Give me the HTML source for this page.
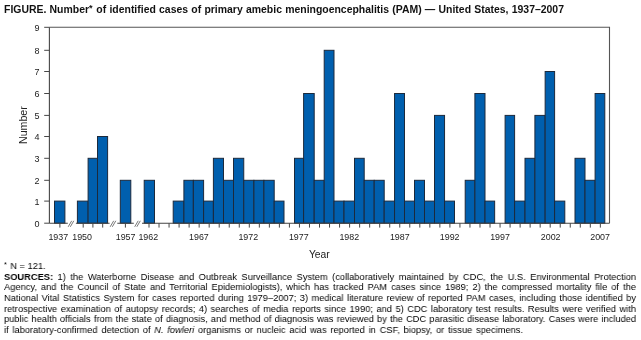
<!DOCTYPE html>
<html><head><meta charset="utf-8"><style>
html,body{margin:0;padding:0;background:#fff;width:641px;height:340px;overflow:hidden;position:relative}
body{font-family:"Liberation Sans",sans-serif;color:#111}
.title,.fl,svg{will-change:transform}
.title{position:absolute;left:4.0px;top:4.14px;font-size:10.45px;font-weight:bold;white-space:pre;line-height:12.007px;word-spacing:0.347px}
.fl{position:absolute;left:4.0px;font-size:9.951px;line-height:11.434px;white-space:pre;color:#000;transform-origin:0 0;transform:scaleX(0.93458)}
</style></head><body>
<div class="title">FIGURE. Number<span style="font-size:9px;letter-spacing:0.56px;position:relative;top:-2px">*</span> of identified cases of primary amebic meningoencephalitis (PAM) — United States, 1937–2007</div>
<svg width="641" height="340" viewBox="0 0 641 340" style="position:absolute;left:0;top:0">
<g fill="#005fae" stroke="#1c2a3c" stroke-width="1"><rect x="54.50" y="201.10" width="10.40" height="22.10"/><rect x="77.40" y="201.10" width="10.70" height="22.10"/><rect x="88.10" y="158.30" width="9.40" height="64.90"/><rect x="97.50" y="136.50" width="10.10" height="86.70"/><rect x="120.30" y="180.30" width="10.50" height="42.90"/><rect x="144.20" y="180.30" width="10.30" height="42.90"/><rect x="173.20" y="201.10" width="10.70" height="22.10"/><rect x="183.90" y="180.30" width="9.45" height="42.90"/><rect x="193.35" y="180.30" width="10.25" height="42.90"/><rect x="203.60" y="201.10" width="9.80" height="22.10"/><rect x="213.40" y="158.30" width="10.10" height="64.90"/><rect x="223.50" y="180.30" width="10.00" height="42.90"/><rect x="233.50" y="158.30" width="10.25" height="64.90"/><rect x="243.75" y="180.30" width="10.15" height="42.90"/><rect x="253.90" y="180.30" width="10.00" height="42.90"/><rect x="263.90" y="180.30" width="10.30" height="42.90"/><rect x="274.20" y="201.10" width="9.80" height="22.10"/><rect x="294.50" y="158.30" width="9.10" height="64.90"/><rect x="303.60" y="93.50" width="10.60" height="129.70"/><rect x="314.20" y="180.30" width="10.00" height="42.90"/><rect x="324.20" y="50.30" width="9.80" height="172.90"/><rect x="334.00" y="201.10" width="10.00" height="22.10"/><rect x="344.00" y="201.10" width="10.50" height="22.10"/><rect x="354.50" y="158.30" width="9.70" height="64.90"/><rect x="364.20" y="180.30" width="10.00" height="42.90"/><rect x="374.20" y="180.30" width="10.00" height="42.90"/><rect x="384.20" y="201.10" width="10.35" height="22.10"/><rect x="394.55" y="93.50" width="9.95" height="129.70"/><rect x="404.50" y="201.10" width="10.00" height="22.10"/><rect x="414.50" y="180.30" width="10.00" height="42.90"/><rect x="424.50" y="201.10" width="10.00" height="22.10"/><rect x="434.50" y="115.40" width="10.05" height="107.80"/><rect x="444.55" y="201.10" width="9.95" height="22.10"/><rect x="465.20" y="180.30" width="9.70" height="42.90"/><rect x="474.90" y="93.50" width="10.10" height="129.70"/><rect x="485.00" y="201.10" width="9.65" height="22.10"/><rect x="505.10" y="115.40" width="9.50" height="107.80"/><rect x="514.60" y="201.10" width="10.40" height="22.10"/><rect x="525.00" y="158.30" width="9.90" height="64.90"/><rect x="534.90" y="115.40" width="10.25" height="107.80"/><rect x="545.15" y="71.50" width="9.45" height="151.70"/><rect x="554.60" y="201.10" width="10.20" height="22.10"/><rect x="575.00" y="158.30" width="10.00" height="64.90"/><rect x="585.00" y="180.30" width="10.10" height="42.90"/><rect x="595.10" y="93.50" width="9.70" height="129.70"/></g>
<path d="M49.4 27.3H609.5V223.2" fill="none" stroke="#555" stroke-width="1.1"/>
<path d="M49.4 27.3V223.2" fill="none" stroke="#464646" stroke-width="1.1"/>
<path d="M49.4 223.2H67.8M75.9 223.2H109.6M117.3 223.2H133.8M142.0 223.2H609.5" fill="none" stroke="#464646" stroke-width="1.1"/>
<path d="M44.2 223.20H49.4M44.2 201.10H49.4M44.2 180.30H49.4M44.2 158.30H49.4M44.2 136.50H49.4M44.2 115.40H49.4M44.2 93.50H49.4M44.2 71.50H49.4M44.2 50.30H49.4M44.2 27.30H49.4" fill="none" stroke="#464646" stroke-width="1"/>
<path d="M59.90 223.20V227.6M83.20 223.20V227.6M92.90 223.20V227.6M102.70 223.20V227.6M125.40 223.20V227.6M149.00 223.20V227.6M159.03 223.20V227.6M169.06 223.20V227.6M179.09 223.20V227.6M189.12 223.20V227.6M199.15 223.20V227.6M209.18 223.20V227.6M219.21 223.20V227.6M229.24 223.20V227.6M239.27 223.20V227.6M249.30 223.20V227.6M259.33 223.20V227.6M269.36 223.20V227.6M279.39 223.20V227.6M289.42 223.20V227.6M299.45 223.20V227.6M309.48 223.20V227.6M319.51 223.20V227.6M329.54 223.20V227.6M339.57 223.20V227.6M349.60 223.20V227.6M359.63 223.20V227.6M369.66 223.20V227.6M379.69 223.20V227.6M389.72 223.20V227.6M399.75 223.20V227.6M409.78 223.20V227.6M419.81 223.20V227.6M429.84 223.20V227.6M439.87 223.20V227.6M449.90 223.20V227.6M459.93 223.20V227.6M469.96 223.20V227.6M479.99 223.20V227.6M490.02 223.20V227.6M500.05 223.20V227.6M510.08 223.20V227.6M520.11 223.20V227.6M530.14 223.20V227.6M540.17 223.20V227.6M550.20 223.20V227.6M560.23 223.20V227.6M570.26 223.20V227.6M580.29 223.20V227.6M590.32 223.20V227.6M600.35 223.20V227.6" fill="none" stroke="#464646" stroke-width="1"/>
<path d="M68.20 226.8L71.70 220.8M70.30 226.8L73.80 220.8M110.20 226.8L113.70 220.8M112.30 226.8L115.80 220.8M134.70 226.8L138.20 220.8M136.80 226.8L140.30 220.8" fill="none" stroke="#555" stroke-width="0.8"/>
<g font-family="Liberation Sans, sans-serif" font-size="9.0" fill="#222"><text x="39.6" y="226.90" text-anchor="end">0</text><text x="39.6" y="204.80" text-anchor="end">1</text><text x="39.6" y="184.00" text-anchor="end">2</text><text x="39.6" y="162.00" text-anchor="end">3</text><text x="39.6" y="140.20" text-anchor="end">4</text><text x="39.6" y="119.10" text-anchor="end">5</text><text x="39.6" y="97.20" text-anchor="end">6</text><text x="39.6" y="75.20" text-anchor="end">7</text><text x="39.6" y="54.00" text-anchor="end">8</text><text x="39.6" y="31.00" text-anchor="end">9</text></g>
<g font-family="Liberation Sans, sans-serif" font-size="8.9" fill="#222"><text x="58.30" y="240.1" text-anchor="middle">1937</text><text x="82.10" y="240.1" text-anchor="middle">1950</text><text x="125.60" y="240.1" text-anchor="middle">1957</text><text x="148.30" y="240.1" text-anchor="middle">1962</text><text x="198.95" y="240.1" text-anchor="middle">1967</text><text x="248.30" y="240.1" text-anchor="middle">1972</text><text x="298.75" y="240.1" text-anchor="middle">1977</text><text x="349.30" y="240.1" text-anchor="middle">1982</text><text x="399.75" y="240.1" text-anchor="middle">1987</text><text x="449.70" y="240.1" text-anchor="middle">1992</text><text x="500.05" y="240.1" text-anchor="middle">1997</text><text x="550.70" y="240.1" text-anchor="middle">2002</text><text x="600.10" y="240.1" text-anchor="middle">2007</text></g>
<text x="319.3" y="257.5" text-anchor="middle" font-family="Liberation Sans, sans-serif" font-size="10.3" fill="#222">Year</text>
<text transform="translate(27.0 125.1) rotate(-90)" text-anchor="middle" font-family="Liberation Sans, sans-serif" font-size="10.6" fill="#222">Number</text>
</svg>
<div class="fl" style="top:260.29px;word-spacing:0.000px"><span style="font-size:7.5px;letter-spacing:0.95px;position:relative;top:-1.6px">*</span> N = 121.</div>
<div class="fl" style="top:270.89px;word-spacing:2.105px"><b>SOURCES:</b> 1) the Waterborne Disease and Outbreak Surveillance System (collaboratively maintained by CDC, the U.S. Environmental Protection</div>
<div class="fl" style="top:281.49px;word-spacing:1.563px">Agency, and the Council of State and Territorial Epidemiologists), which has tracked PAM cases since 1989; 2) the compressed mortality file of the</div>
<div class="fl" style="top:292.09px;word-spacing:0.936px">National Vital Statistics System for cases reported during 1979–2007; 3) medical literature review of reported PAM cases, including those identified by</div>
<div class="fl" style="top:302.69px;word-spacing:1.034px">retrospective examination of autopsy records; 4) searches of media reports since 1990; and 5) CDC laboratory test results. Results were verified with</div>
<div class="fl" style="top:313.29px;word-spacing:0.625px">public health officials from the state of diagnosis, and method of diagnosis was reviewed by the CDC parasitic disease laboratory. Cases were included</div>
<div class="fl" style="top:323.89px;word-spacing:1.259px">if laboratory-confirmed detection of <i>N. fowleri</i> organisms or nucleic acid was reported in CSF, biopsy, or tissue specimens.</div>

</body></html>
